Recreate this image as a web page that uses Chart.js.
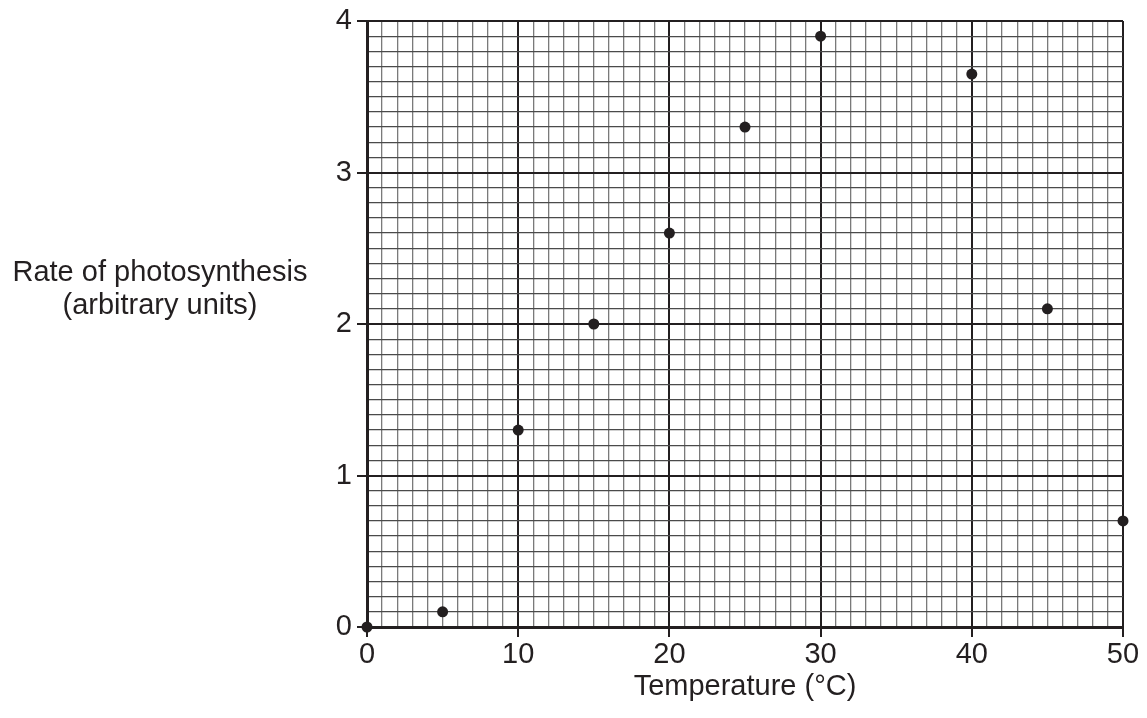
<!DOCTYPE html>
<html>
<head>
<meta charset="utf-8">
<script src="https://cdn.jsdelivr.net/npm/chart.js@4.4.1/dist/chart.umd.min.js"></script>
<style>
  body { margin: 0; background: #fff; }
  #wrap { position: relative; width: 1147px; height: 718px; }
</style>
</head>
<body>
<div id="wrap"><canvas id="grafica"></canvas></div>
<script>
// Datos
const temperatures = [0, 5, 10, 15, 20, 25, 30, 40, 45, 50];
const rates = [0, 0.1, 1.3, 2.0, 2.6, 3.3, 3.9, 3.65, 2.1, 0.7];

const xMajorTicks = [0, 10, 20, 30, 40, 50];
const yMajorTicks = [0, 1, 2, 3, 4];

const yTitleLines = ["Rate of photosynthesis", "(arbitrary units)"];
const xTitle = "Temperature (°C)";

const ink = "#231f20";
const fontFamily = "'Liberation Sans', Arial, Helvetica, sans-serif";

function isMajor(v, list) {
  return list.some(m => Math.abs(m - v) < 1e-6);
}

/* título del eje Y en horizontal */
const yTitlePlugin = {
  id: "yTitle",
  afterDraw(chart) {
    const c = chart.ctx;
    c.save();
    c.fillStyle = ink;
    c.font = "29px " + fontFamily;
    c.textAlign = "center";
    c.textBaseline = "alphabetic";
    c.fillText(yTitleLines[0], 160, 281);
    c.fillText(yTitleLines[1], 160, 314);
    c.restore();
  }
};

const points = temperatures.map((t, i) => ({ x: t, y: rates[i] }));

new Chart(document.getElementById("grafica"), {
  type: "scatter",
  data: {
    datasets: [{
      data: points,
      pointRadius: 5.5,
      pointHoverRadius: 5.5,
      pointBackgroundColor: ink,
      pointBorderColor: ink,
      pointBorderWidth: 0,
      clip: false
    }]
  },
  options: {
    responsive: true,
    maintainAspectRatio: false,
    animation: false,
    layout: { padding: { top: 21, right: 24, bottom: 0, left: 0 } },
    plugins: {
      legend: { display: false },
      tooltip: { enabled: false }
    },
    scales: {
      x: {
        type: "linear",
        min: 0,
        max: 50,
        afterFit(scale) { scale.height = 91; },
        border: { color: ink, width: 3 },
        grid: {
          color: ctx => isMajor(ctx.tick.value, xMajorTicks) ? ink : "#7a7a7a",
          lineWidth: ctx => isMajor(ctx.tick.value, xMajorTicks) ? 2 : 1.3,
          tickColor: ctx => isMajor(ctx.tick.value, xMajorTicks) ? ink : "rgba(0,0,0,0)",
          tickWidth: 2,
          tickLength: 10
        },
        ticks: {
          stepSize: 1,
          autoSkip: false,
          maxRotation: 0,
          padding: 3,
          color: ink,
          font: { family: fontFamily, size: 29, lineHeight: 1 },
          callback: v => isMajor(v, xMajorTicks) ? String(Math.round(v)) : ""
        },
        title: {
          display: true,
          text: xTitle,
          color: ink,
          font: { family: fontFamily, size: 29, lineHeight: 1 },
          padding: { top: 0, bottom: 17 }
        }
      },
      y: {
        type: "linear",
        min: 0,
        max: 4,
        afterFit(scale) { scale.width = 367; },
        border: { color: ink, width: 3 },
        grid: {
          color: ctx => isMajor(ctx.tick.value, yMajorTicks) ? ink : "#4a4a4a",
          lineWidth: ctx => isMajor(ctx.tick.value, yMajorTicks) ? 2 : 1.3,
          tickColor: ctx => isMajor(ctx.tick.value, yMajorTicks) ? ink : "rgba(0,0,0,0)",
          tickWidth: 2,
          tickLength: 10
        },
        ticks: {
          stepSize: 0.1,
          autoSkip: false,
          padding: 5,
          color: ink,
          font: { family: fontFamily, size: 29, lineHeight: 1 },
          callback: v => isMajor(v, yMajorTicks) ? String(Math.round(v)) : ""
        }
      }
    }
  },
  plugins: [yTitlePlugin]
});
</script>
</body>
</html>
